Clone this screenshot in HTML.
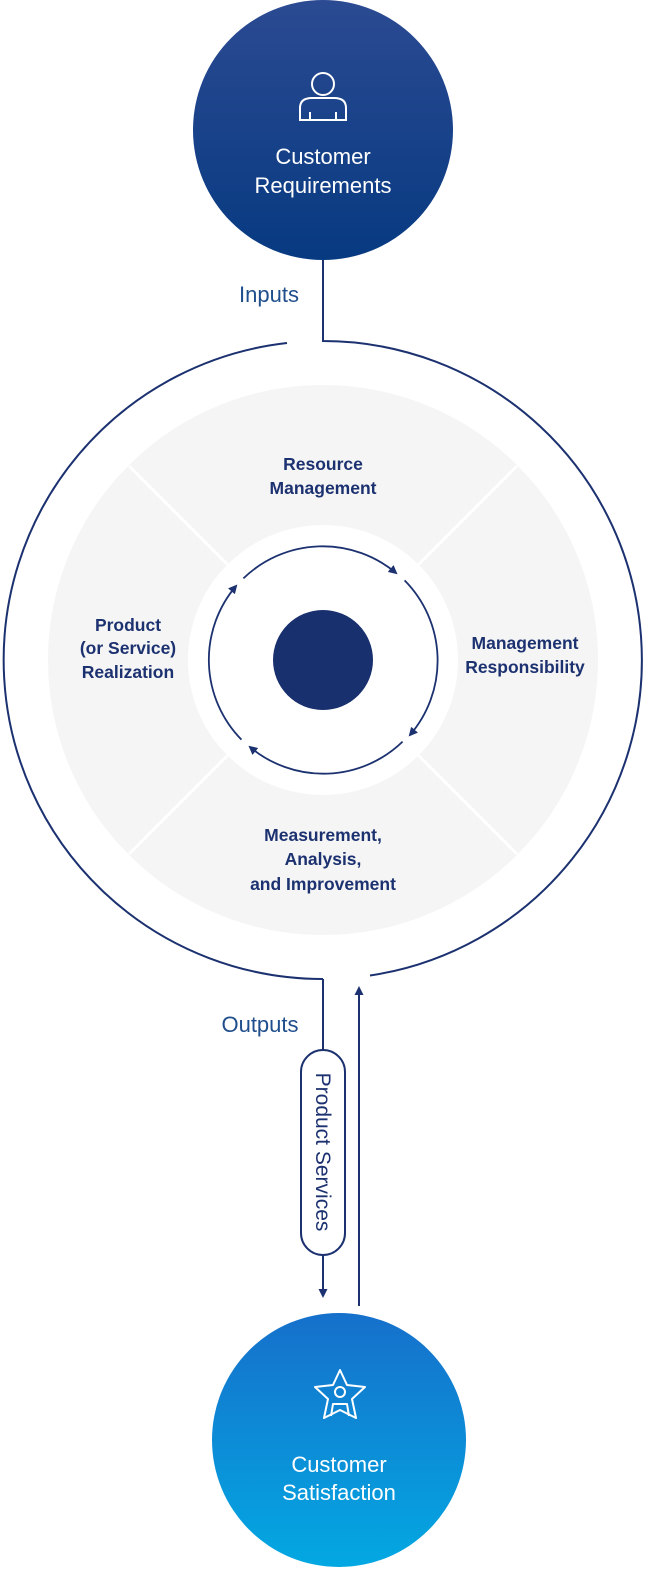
<!DOCTYPE html>
<html><head><meta charset="utf-8"><style>
html,body{margin:0;padding:0;background:#fff;}
svg{display:block;}
text{font-family:"Liberation Sans",sans-serif;}
</style></head><body>
<svg width="658" height="1595" viewBox="0 0 658 1595" xmlns="http://www.w3.org/2000/svg">
<defs>
<linearGradient id="g1" x1="0" y1="0" x2="0" y2="1"><stop offset="0" stop-color="#2b4a92"/><stop offset="1" stop-color="#073a81"/></linearGradient>
<linearGradient id="g2" x1="0" y1="0" x2="0" y2="1"><stop offset="0" stop-color="#1670cb"/><stop offset="1" stop-color="#03a8e2"/></linearGradient>
<marker id="ah" markerWidth="9" markerHeight="9" refX="7" refY="4.5" orient="auto" markerUnits="userSpaceOnUse"><path d="M0,0 L9,4.5 L0,9 Z" fill="#1c3170"/></marker>
</defs>
<circle cx="323" cy="130" r="130" fill="url(#g1)"/>
<g fill="none" stroke="#fff" stroke-width="2">
<circle cx="323" cy="84" r="11"/>
<path d="M300,120 L300,108 Q300,98 312,98 L334,98 Q346,98 346,108 L346,120 Z"/>
<path d="M310,120 L310,112 M336,120 L336,112"/>
</g>
<text x="323" y="164" fill="#fff" font-size="22" text-anchor="middle">Customer</text>
<text x="323" y="193" fill="#fff" font-size="22" text-anchor="middle">Requirements</text>
<text x="269" y="302" fill="#1f4e8c" font-size="22" text-anchor="middle">Inputs</text>
<g fill="none" stroke="#1c3170" stroke-width="2">
<path d="M323,260 L323,341 A319 319 0 0 1 370,975.5"/>
<path d="M323,979 A319 319 0 0 1 287,343"/>
<path d="M323,979 L323,1296" marker-end="url(#ah)"/>
<path d="M359,1306 L359,988" marker-end="url(#ah)"/>
</g>
<circle cx="323" cy="660" r="205" fill="none" stroke="#f5f5f5" stroke-width="140"/>
<g stroke="#fff" stroke-width="3">
<line x1="323" y1="660" x2="129" y2="466"/>
<line x1="323" y1="660" x2="517" y2="466"/>
<line x1="323" y1="660" x2="129" y2="854"/>
<line x1="323" y1="660" x2="517" y2="854"/>
</g>
<circle cx="323" cy="660" r="134" fill="#fff"/>
<circle cx="323" cy="660" r="50" fill="#18306e"/>
<g fill="none" stroke="#1c3170" stroke-width="1.8">
<path d="M243.4,578.4 A114 114 0 0 1 396,573" marker-end="url(#ah)"/>
<path d="M404.6,580.4 A114 114 0 0 1 410,735" marker-end="url(#ah)"/>
<path d="M402.6,741.6 A114 114 0 0 1 250,747" marker-end="url(#ah)"/>
<path d="M241.4,739.6 A114 114 0 0 1 236,586" marker-end="url(#ah)"/>
</g>
<g fill="#1c3170" font-size="17.5" font-weight="bold" text-anchor="middle">
<text x="323" y="470">Resource</text>
<text x="323" y="494">Management</text>
<text x="525" y="649">Management</text>
<text x="525" y="673">Responsibility</text>
<text x="128" y="631">Product</text>
<text x="128" y="654">(or Service)</text>
<text x="128" y="678">Realization</text>
<text x="323" y="841">Measurement,</text>
<text x="323" y="865">Analysis,</text>
<text x="323" y="890">and Improvement</text>
</g>
<text x="260" y="1032" fill="#1f4e8c" font-size="22" text-anchor="middle">Outputs</text>
<rect x="301" y="1050" width="44" height="205" rx="22" fill="#fff" stroke="#1c3170" stroke-width="2"/>
<text transform="translate(316,1152) rotate(90)" fill="#1c3170" font-size="21" text-anchor="middle">Product Services</text>
<circle cx="339" cy="1440" r="127" fill="url(#g2)"/>
<g fill="none" stroke="#fff" stroke-width="2" stroke-linejoin="round">
<path d="M340,1370 L347,1385 L365,1387 L352,1399 L356,1418 L340,1410 L324,1418 L328,1399 L315,1387 L333,1385 Z"/>
<circle cx="340" cy="1392" r="5"/>
<path d="M331,1416 L333,1404 L347,1404 L349,1416"/>
</g>
<text x="339" y="1472" fill="#fff" font-size="22" text-anchor="middle">Customer</text>
<text x="339" y="1500" fill="#fff" font-size="22" text-anchor="middle">Satisfaction</text>
</svg>
</body></html>
